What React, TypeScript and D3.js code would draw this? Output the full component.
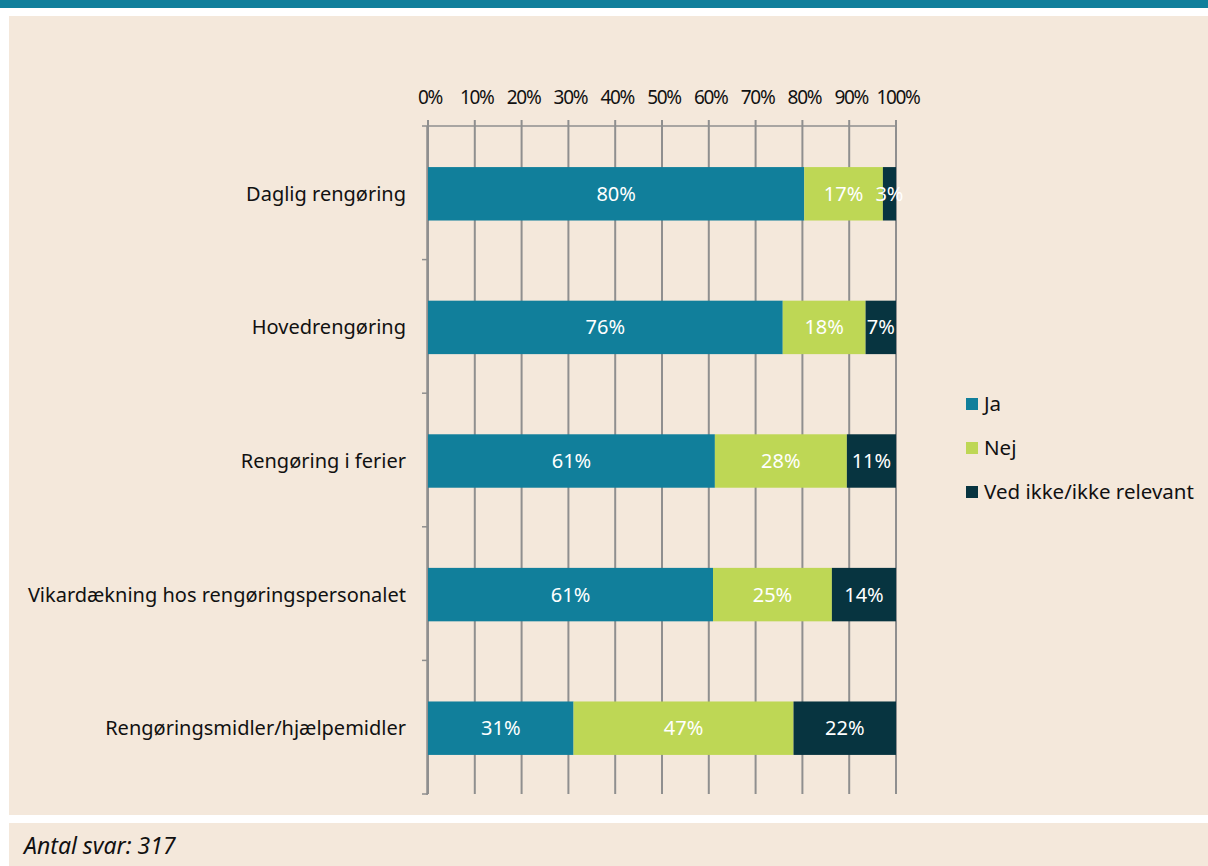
import React, { useEffect, useRef } from 'react'
import * as d3 from 'd3'

// stacked shares per category (percent)
const categories = [
  'Daglig rengøring',
  'Hovedrengøring',
  'Rengøring i ferier',
  'Vikardækning hos rengøringspersonalet',
  'Rengøringsmidler/hjælpemidler',
]
const jaValues = [80.4, 75.8, 61.3, 60.9, 31.1]
const nejValues = [16.8, 17.7, 28.2, 25.4, 47.0]
const vedValues = [2.8, 6.5, 10.5, 13.7, 21.9]
const seriesNames = ['Ja', 'Nej', 'Ved ikke/ikke relevant']
const seriesColors = ['#117f9b', '#bed755', '#073440']
const tickValues = [0, 10, 20, 30, 40, 50, 60, 70, 80, 90, 100]
const footnote = 'Antal svar: 317'

const W = 1208
const H = 866
const FONT = '"Noto Sans", sans-serif'

function App() {
  const ref = useRef<SVGSVGElement>(null)

  useEffect(() => {
    const svg = d3.select(ref.current)
    svg.selectAll('*').remove()

    // frame
    svg.append('rect').attr('width', W).attr('height', H).attr('fill', '#fff')
    svg.append('rect').attr('width', W).attr('height', 8).attr('fill', '#117f9b')
    svg.append('rect').attr('x', 9).attr('y', 16).attr('width', W - 9).attr('height', 799).attr('fill', '#f4e8db')
    svg.append('rect').attr('x', 9).attr('y', 823).attr('width', W - 9).attr('height', H - 823).attr('fill', '#f4e8db')

    const rows = categories.map((c, i) => ({ name: c, Ja: jaValues[i], Nej: nejValues[i], Ved: vedValues[i] }))
    const stack = d3.stack<any>().keys(['Ja', 'Nej', 'Ved'])(rows)

    const x = d3.scaleLinear().domain([0, 100]).range([428, 896])
    const y = d3.scaleBand().domain(categories).range([127, 795]).paddingInner(0.6).paddingOuter(0.3)
    const band = d3.scaleBand().domain(categories).range([126, 794])

    const g = svg.append('g')

    // vertical gridlines
    g.selectAll('line.grid')
      .data(tickValues)
      .enter()
      .append('line')
      .attr('x1', (d) => x(d))
      .attr('x2', (d) => x(d))
      .attr('y1', 120)
      .attr('y2', 794)
      .attr('stroke', '#8f8f8f')
      .attr('stroke-width', 2)

    // top axis line
    g.append('line')
      .attr('x1', x(0)).attr('x2', x(100))
      .attr('y1', 126).attr('y2', 126)
      .attr('stroke', '#8f8f8f').attr('stroke-width', 1.5)

    // left axis with category ticks
    g.append('line')
      .attr('x1', x(0) - 1).attr('x2', x(0) - 1)
      .attr('y1', 126).attr('y2', 795)
      .attr('stroke', '#8f8f8f').attr('stroke-width', 1.5)
    const bounds = categories.map((c) => band(c) as number).concat([794])
    g.selectAll('line.ytick')
      .data(bounds)
      .enter()
      .append('line')
      .attr('x1', x(0) - 6).attr('x2', x(0))
      .attr('y1', (d) => d).attr('y2', (d) => d)
      .attr('stroke', '#8f8f8f').attr('stroke-width', 1.5)

    // tick labels
    g.selectAll('text.xtick')
      .data(tickValues)
      .enter()
      .append('text')
      .attr('x', (d) => x(d) + 2)
      .attr('y', 104)
      .attr('text-anchor', 'middle')
      .attr('font-family', FONT)
      .attr('font-size', 19)
      .attr('letter-spacing', -1.3)
      .attr('fill', '#111')
      .text((d) => d + '%')

    // category labels
    g.selectAll('text.cat')
      .data(categories)
      .enter()
      .append('text')
      .attr('x', 406)
      .attr('y', (d) => (y(d) as number) + y.bandwidth() / 2)
      .attr('dy', '0.35em')
      .attr('text-anchor', 'end')
      .attr('font-family', FONT)
      .attr('font-size', 20)
      .attr('fill', '#111')
      .text((d) => d)

    // bars
    stack.forEach((s, si) => {
      const layer = g.append('g').attr('fill', seriesColors[si])
      layer.selectAll('rect')
        .data(s)
        .enter()
        .append('rect')
        .attr('x', (d) => x(d[0]))
        .attr('y', (d) => y(d.data.name) as number)
        .attr('width', (d) => x(d[1]) - x(d[0]))
        .attr('height', y.bandwidth())
      layer.selectAll('text')
        .data(s)
        .enter()
        .append('text')
        .attr('x', (d) => (x(d[0]) + x(d[1])) / 2)
        .attr('y', (d) => (y(d.data.name) as number) + y.bandwidth() / 2)
        .attr('dy', '0.35em')
        .attr('text-anchor', 'middle')
        .attr('font-family', FONT)
        .attr('font-size', 20)
        .attr('fill', '#fff')
        .text((d) => Math.round(d[1] - d[0]) + '%')
    })

    // legend
    const legend = g.selectAll('g.legend')
      .data(seriesNames)
      .enter()
      .append('g')
      .attr('transform', (d, i) => `translate(966,${398 + i * 44})`)
    legend.append('rect')
      .attr('width', 12).attr('height', 12)
      .attr('fill', (d, i) => seriesColors[i])
    legend.append('text')
      .attr('x', 18).attr('y', 6).attr('dy', '0.35em')
      .attr('font-family', FONT).attr('font-size', 20.5).attr('fill', '#111')
      .text((d) => d)

    // footnote
    svg.append('text')
      .attr('x', 24).attr('y', 854)
      .attr('font-family', FONT).attr('font-size', 23)
      .attr('font-style', 'italic').attr('fill', '#111')
      .text(footnote)
  }, [])

  return (
    <div style={{ position: 'absolute', left: 0, top: 0 }}>
      <svg ref={ref} width={W} height={H} style={{ display: 'block' }}></svg>
    </div>
  )
}

export default App
